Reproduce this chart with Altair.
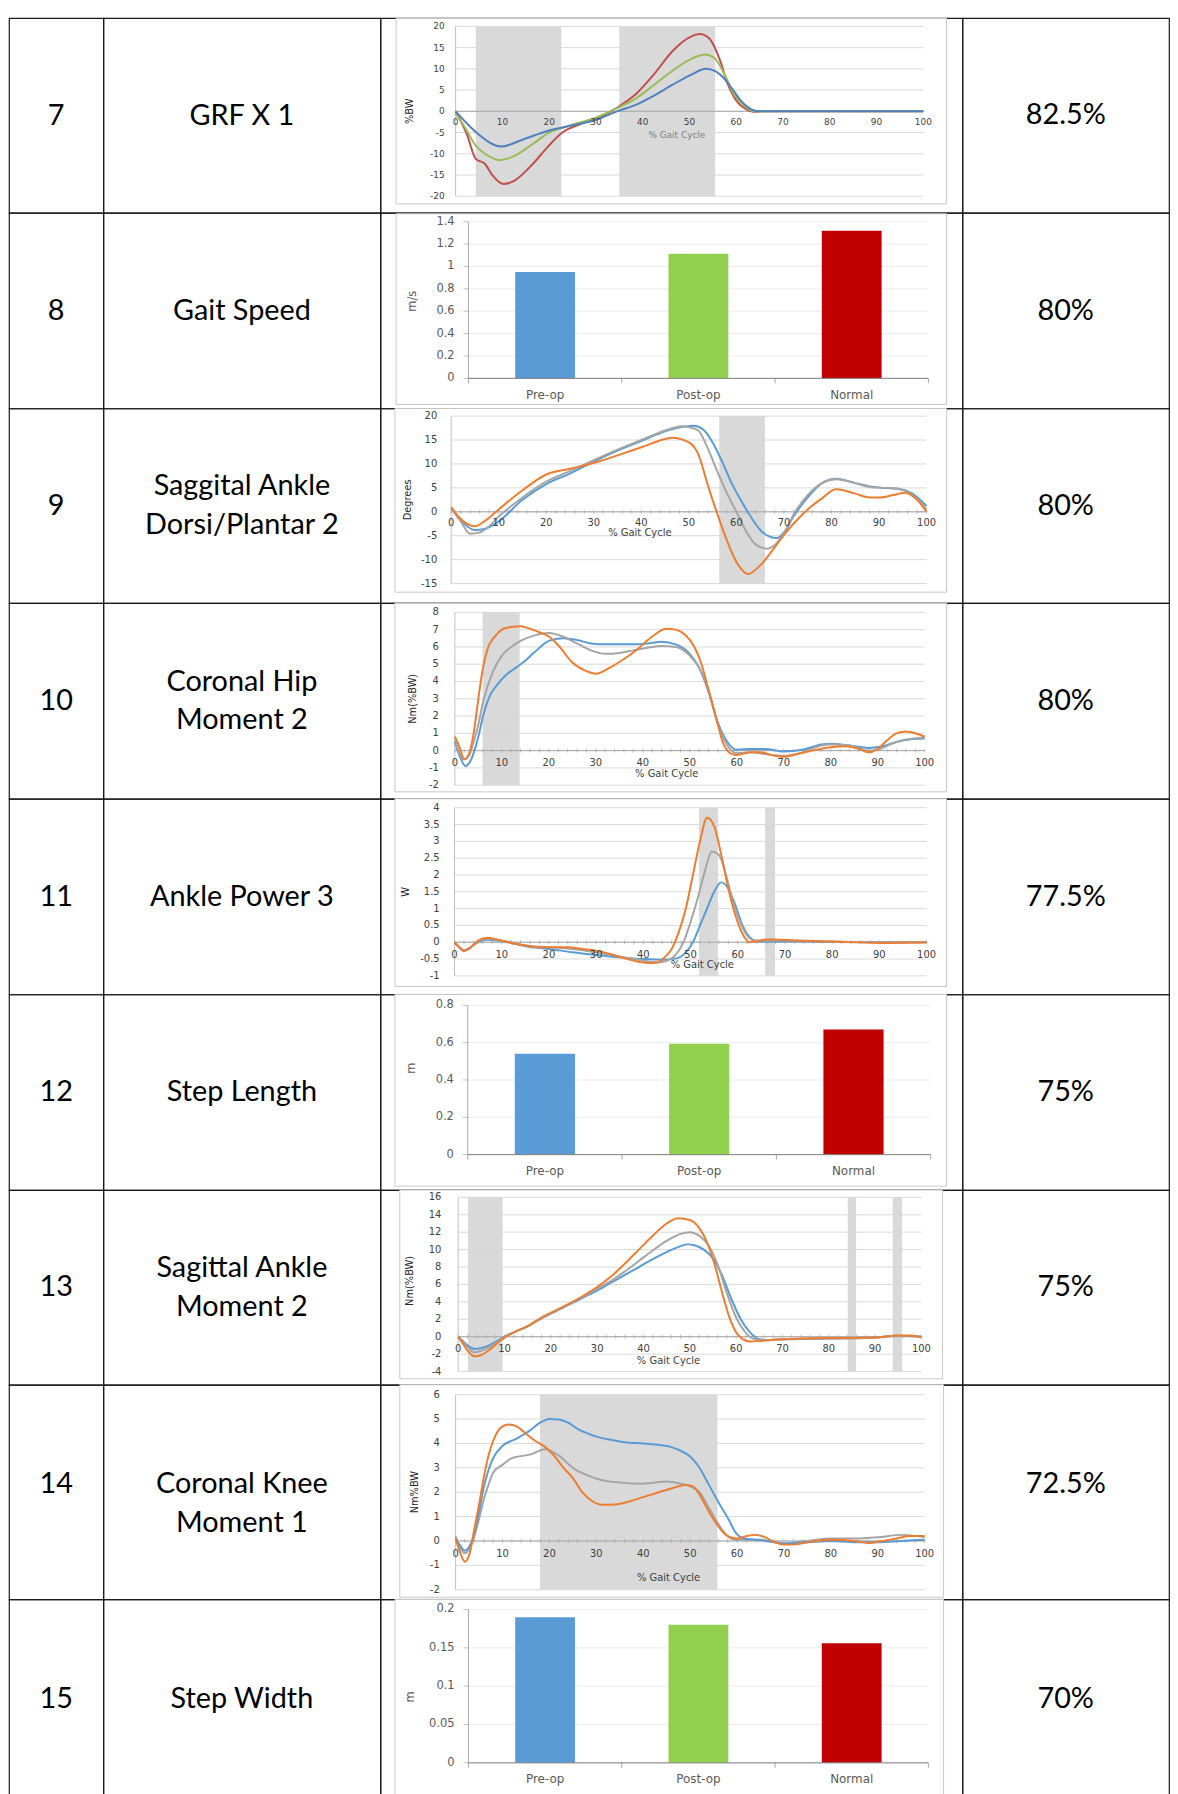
import altair as alt
import pandas as pd

# ---------------- table text ----------------
row_numbers = ["7", "8", "9", "10", "11", "12", "13", "14", "15"]
row_names = ["GRF X 1", "Gait Speed", "Saggital Ankle\nDorsi/Plantar 2", "Coronal Hip\nMoment 2",
             "Ankle Power 3", "Step Length", "Sagittal Ankle\nMoment 2", "Coronal Knee\nMoment 1",
             "Step Width"]
row_percents = ["82.5%", "80%", "80%", "80%", "77.5%", "75%", "75%", "72.5%", "70%"]

# ---------------- bar charts ----------------
bar_categories = ["Pre-op", "Post-op", "Normal"]
gait_speed = [0.95, 1.115, 1.32]
step_length = [0.54, 0.594, 0.671]
step_width = [0.19, 0.18, 0.156]
gait_speed_ticks = [0, 0.2, 0.4, 0.6, 0.8, 1.0, 1.2, 1.4]
gait_speed_labels = ["0", "0.2", "0.4", "0.6", "0.8", "1", "1.2", "1.4"]
step_length_ticks = [0, 0.2, 0.4, 0.6, 0.8]
step_length_labels = ["0", "0.2", "0.4", "0.6", "0.8"]
step_width_ticks = [0, 0.05, 0.1, 0.15, 0.2]
step_width_labels = ["0", "0.05", "0.1", "0.15", "0.2"]

# ---------------- gait cycle x axis ----------------
cycle_ticks = [0, 10, 20, 30, 40, 50, 60, 70, 80, 90, 100]
cycle_labels = ["0", "10", "20", "30", "40", "50", "60", "70", "80", "90", "100"]
cycle_minor = list(range(0, 101, 2))

# ---------------- 7: GRF X 1 ----------------
grf_ticks = [-20, -15, -10, -5, 0, 5, 10, 15, 20]
grf_labels = ["-20", "-15", "-10", "-5", "0", "5", "10", "15", "20"]
grf_shades = [(4.3, 22.6), (35.0, 55.5)]
grf_red = [(0, 0), (2.4, -5.4), (4.3, -11.2), (6.3, -12.4), (7.9, -15.1), (10.2, -17.1), (12.6, -16.3),
           (16.5, -12.4), (19.6, -8.5), (22.8, -5.0), (26.7, -3.0), (30.6, -1.5), (34.6, 0.9), (38.5, 4.0),
           (42.4, 8.7), (46.3, 14.1), (50.3, 17.6), (52.2, 18.2), (54.2, 17.2), (56.6, 11.8), (58.1, 6.7),
           (60.1, 2.4), (62.1, 0.5), (63.6, -0.1), (66, 0), (100, 0)]
grf_green = [(0, -0.5), (2, -3.8), (4.3, -8.1), (6.3, -10.0), (9.5, -11.5), (12, -10.8), (16.5, -7.7),
             (20, -5.0), (23, -3.8), (26, -2.8), (30, -1.5), (34, 0.5), (38.5, 3.0), (42.4, 6.2), (46.3, 9.5),
             (50.3, 12.3), (53.4, 13.4), (55.4, 12.5), (57.6, 8.5), (59.5, 4.0), (61.5, 1.5), (64, 0), (100, 0)]
grf_blue = [(0, 0), (3, -3.5), (5, -5.5), (9.8, -8.3), (14, -6.8), (20, -4.5), (25, -3.3), (30, -2.0),
            (34.5, 0), (38.5, 1.5), (42.4, 3.7), (46.3, 6.2), (50.3, 8.6), (53.5, 10.0), (55.4, 9.5),
            (57.6, 7.5), (59, 5.5), (61, 2.5), (63, 0.6), (65, 0), (100, 0)]

# ---------------- 9: Sagittal ankle angle ----------------
ank_ticks = [-15, -10, -5, 0, 5, 10, 15, 20]
ank_labels = ["-15", "-10", "-5", "0", "5", "10", "15", "20"]
ank_shades = [(56.4, 66.0)]
ank_blue = [(0, 0.8), (2, -1.8), (5, -3.8), (7, -3.6), (10, -2.0), (15, 2.5), (20, 5.8), (25, 8.0), (30, 10.5),
            (35, 12.8), (40, 14.8), (45, 16.8), (49, 17.8), (51, 18.0), (53, 17.2), (55, 14.5), (57, 10.5),
            (59, 6.0), (61, 2.3), (63, -1.0), (65, -3.8), (67, -5.2), (68.5, -5.5), (70, -4.3), (72, -1.0),
            (75, 3.0), (78, 6.0), (81, 6.9), (85, 6.0), (88, 5.3), (91, 5.0), (94, 4.8), (97, 3.8), (100, 1.2)]
ank_gray = [(0, 0.8), (2, -2.0), (4, -4.6), (6, -4.3), (8, -3.0), (10, -1.0), (15, 3.0), (20, 6.3), (25, 8.5),
            (30, 10.8), (35, 13.0), (40, 15.0), (45, 17.0), (48.5, 17.9), (50, 17.7), (52, 17.0), (54, 13.2),
            (56, 8.4), (58, 3.9), (60, 0.0), (62, -4.0), (64, -6.8), (66.5, -7.7), (68, -7.0), (70, -4.5),
            (72, -0.6), (75, 3.5), (78, 6.0), (81, 6.8), (85, 6.0), (88, 5.2), (91, 5.0), (94, 4.8), (97, 3.5),
            (100, 0.5)]
ank_orange = [(0, 1.0), (2, -1.5), (5, -3.0), (7, -2.0), (10, 0.5), (15, 4.5), (20, 7.8), (25, 9.0), (30, 10.2),
              (35, 11.8), (40, 13.5), (45, 15.2), (46.5, 15.5), (50, 14.5), (52, 12.0), (54, 5.5), (56, -0.5),
              (58, -6.0), (60, -10.5), (62.5, -13.0), (65, -11.2), (68, -7.5), (70, -4.8), (72, -2.5), (75, 0.5),
              (78, 2.8), (81, 4.7), (85, 3.8), (88, 3.0), (90, 3.0), (93, 3.5), (95.5, 4.0), (98, 2.5), (100, 0.0)]

# ---------------- 10: Coronal hip moment ----------------
hip_ticks = [-2, -1, 0, 1, 2, 3, 4, 5, 6, 7, 8]
hip_labels = ["-2", "-1", "0", "1", "2", "3", "4", "5", "6", "7", "8"]
hip_shades = [(5.9, 13.8)]
hip_blue = [(0, 0.5), (1, -0.3), (2.3, -0.9), (3.5, -0.5), (5, 0.8), (6, 2.0), (7.5, 3.2), (9, 3.8), (11, 4.4),
            (13, 4.8), (14.5, 5.1), (17, 5.7), (20, 6.35), (23, 6.5), (26, 6.4), (29, 6.2), (32, 6.15), (35, 6.15),
            (38, 6.15), (41, 6.2), (44, 6.3), (47, 6.15), (50, 5.6), (52, 4.8), (54, 3.4), (56, 1.6), (58, 0.5),
            (60, 0.05), (63, 0.1), (66, 0.1), (70, -0.05), (74, 0.05), (78, 0.35), (80, 0.4), (84, 0.3),
            (88, 0.15), (91, 0.25), (94, 0.5), (97, 0.65), (100, 0.7)]
hip_gray = [(0, 0.6), (2, -0.5), (3, -0.3), (4, 0.5), (5, 1.5), (6, 2.8), (8, 4.5), (10, 5.5), (12, 6.0),
            (14, 6.35), (17, 6.67), (20, 6.8), (23, 6.6), (26, 6.2), (29, 5.8), (32, 5.6), (35, 5.65), (38, 5.8),
            (41, 5.95), (44, 6.05), (47, 6.0), (50, 5.5), (52, 4.8), (54, 3.5), (56, 1.5), (58, 0.3), (60, -0.15),
            (63, -0.1), (66, -0.2), (70, -0.3), (74, -0.1), (78, 0.3), (80, 0.35), (84, 0.3), (88, 0.0),
            (90, 0.05), (93, 0.4), (96, 0.65), (100, 0.75)]
hip_orange = [(0, 0.8), (1, 0.2), (2, -0.5), (3, -0.2), (4, 1.0), (5, 3.0), (6, 4.8), (7, 5.9), (8.5, 6.6),
              (10, 7.0), (12, 7.15), (14, 7.2), (16, 7.05), (18, 6.85), (20, 6.6), (22, 6.1), (25, 5.1), (28, 4.6),
              (30, 4.45), (33, 4.8), (36, 5.3), (39, 5.9), (42, 6.6), (45, 7.05), (47, 7.0), (49, 6.7), (51, 6.0),
              (52.5, 5.0), (54, 3.5), (55, 2.5), (56, 1.5), (57, 0.5), (58, 0.0), (59, -0.2), (60, -0.25),
              (63, -0.1), (65, -0.1), (68, -0.3), (70, -0.35), (73, -0.2), (76, 0.0), (80, 0.2), (83, 0.25),
              (86, 0.1), (88, -0.1), (90, 0.1), (92, 0.6), (94, 1.0), (96, 1.1), (98, 1.0), (100, 0.8)]

# ---------------- 11: Ankle power ----------------
pow_ticks = [-1, -0.5, 0, 0.5, 1, 1.5, 2, 2.5, 3, 3.5, 4]
pow_labels = ["-1", "-0.5", "0", "0.5", "1", "1.5", "2", "2.5", "3", "3.5", "4"]
pow_shades = [(51.8, 55.8), (65.8, 67.9)]
pow_blue = [(0, 0.0), (1, -0.15), (2, -0.25), (3, -0.18), (5, 0.0), (7, 0.07), (9, 0.05), (12, -0.02),
            (15, -0.12), (20, -0.2), (25, -0.3), (30, -0.38), (35, -0.45), (40, -0.5), (44, -0.52), (47, -0.48),
            (49, -0.3), (50.5, 0.0), (52, 0.5), (53.5, 1.0), (55, 1.5), (56.5, 1.78), (58, 1.6), (59.5, 1.1),
            (61, 0.5), (62.5, 0.15), (64, 0.03), (66, 0.02), (70, 0.03), (80, 0.01), (100, 0.0)]
pow_gray = [(0, 0.0), (1, -0.15), (2, -0.27), (3, -0.2), (5, 0.02), (7, 0.1), (9, 0.07), (12, 0.0), (15, -0.1),
            (20, -0.15), (25, -0.2), (30, -0.3), (35, -0.42), (40, -0.55), (43, -0.6), (45, -0.55), (47, -0.35),
            (48.5, 0.0), (50, 0.6), (51.5, 1.3), (53, 2.1), (54.5, 2.7), (56, 2.6), (57.5, 2.0), (59, 1.2),
            (60.5, 0.6), (62, 0.2), (63.5, 0.05), (66, 0.05), (70, 0.06), (80, 0.02), (90, 0.0), (100, 0.0)]
pow_orange = [(0, 0.0), (1, -0.15), (2, -0.25), (3, -0.2), (5, 0.05), (7, 0.13), (9, 0.08), (12, -0.02),
              (15, -0.1), (18, -0.15), (21, -0.15), (24, -0.15), (27, -0.2), (30, -0.25), (33, -0.35), (36, -0.48),
              (39, -0.58), (41, -0.62), (43, -0.6), (44.5, -0.45), (46, -0.2), (47.5, 0.3), (49, 1.0), (50.5, 2.0),
              (52, 3.0), (53.5, 3.7), (55, 3.45), (56.5, 2.6), (58, 1.6), (59.5, 0.8), (61, 0.25), (62.5, 0.0),
              (64, 0.03), (66, 0.08), (68, 0.08), (72, 0.05), (80, 0.02), (90, -0.02), (100, 0.0)]

# ---------------- 13: Sagittal ankle moment ----------------
am_ticks = [-4, -2, 0, 2, 4, 6, 8, 10, 12, 14, 16]
am_labels = ["-4", "-2", "0", "2", "4", "6", "8", "10", "12", "14", "16"]
am_shades = [(2.1, 9.6), (84.1, 85.9), (93.8, 95.8)]
am_blue = [(0, 0.0), (1, -0.5), (2, -1.0), (3.5, -1.4), (5, -1.3), (7, -0.9), (9, -0.3), (10, 0.0), (12, 0.5),
           (15, 1.2), (18, 2.1), (21, 2.9), (24, 3.7), (27, 4.5), (30, 5.3), (33, 6.2), (36, 7.1), (39, 8.0),
           (42, 8.9), (45, 9.7), (48, 10.4), (49.5, 10.6), (51, 10.5), (53, 10.0), (55, 9.0), (57, 7.0), (59, 4.3),
           (61, 2.0), (63, 0.5), (65, -0.3), (67, -0.4), (70, -0.3), (80, -0.2), (90, -0.1), (95, 0.1), (100, 0.0)]
am_gray = [(0, 0.0), (1, -0.6), (2, -1.2), (3.5, -1.8), (5, -1.6), (7, -1.1), (9, -0.4), (10, -0.05), (12, 0.5),
           (15, 1.2), (18, 2.2), (21, 3.0), (24, 3.8), (27, 4.6), (30, 5.5), (33, 6.4), (36, 7.5), (39, 8.7),
           (42, 9.9), (45, 11.0), (48, 11.8), (50, 12.0), (52, 11.6), (54, 10.5), (56, 8.3), (58, 5.0), (60, 2.2),
           (62, 0.5), (64, -0.3), (66, -0.4), (70, -0.3), (80, -0.2), (85, -0.2), (90, -0.1), (95, 0.1), (98, 0.1),
           (100, 0.0)]
am_orange = [(0, 0.0), (1, -0.8), (2, -1.6), (3.5, -2.25), (5, -2.1), (7, -1.4), (9, -0.5), (10, -0.1), (12, 0.5),
             (15, 1.2), (18, 2.2), (21, 3.0), (24, 3.8), (27, 4.7), (30, 5.7), (33, 6.9), (36, 8.4), (39, 10.0),
             (42, 11.6), (45, 13.0), (47.5, 13.6), (50, 13.4), (52, 12.5), (54, 10.5), (55.5, 8.0), (57, 5.0),
             (58.5, 2.3), (60, 0.5), (61.5, -0.3), (63, -0.55), (65, -0.5), (68, -0.35), (72, -0.25), (80, -0.15),
             (85, -0.15), (90, -0.1), (95, 0.15), (98, 0.1), (100, -0.1)]

# ---------------- 14: Coronal knee moment ----------------
kn_ticks = [-2, -1, 0, 1, 2, 3, 4, 5, 6]
kn_labels = ["-2", "-1", "0", "1", "2", "3", "4", "5", "6"]
kn_shades = [(18.0, 55.8)]
kn_blue = [(0, 0.1), (1, -0.2), (2, -0.4), (3, -0.2), (4, 0.3), (5, 1.2), (6, 2.2), (7, 2.9), (8, 3.4), (10, 3.9),
           (13, 4.2), (16, 4.55), (18, 4.85), (20, 5.0), (22, 4.98), (24, 4.85), (26, 4.6), (28, 4.42), (30, 4.28),
           (33, 4.15), (36, 4.05), (40, 4.0), (43, 3.95), (46, 3.85), (48, 3.7), (50, 3.46), (52, 3.0), (54, 2.3),
           (56, 1.6), (58, 0.95), (60, 0.27), (62, 0.08), (65, 0.05), (68, -0.05), (70, -0.1), (75, -0.05),
           (80, 0.0), (85, -0.05), (90, -0.05), (95, 0.0), (100, 0.05)]
kn_gray = [(0, 0.2), (1, -0.3), (2, -0.5), (3, -0.3), (4, 0.2), (5, 0.9), (6, 1.7), (7, 2.3), (8, 2.8), (10, 3.12),
           (12, 3.4), (16, 3.55), (19, 3.76), (22, 3.5), (25, 3.0), (28, 2.7), (31, 2.5), (35, 2.4), (40, 2.35),
           (45, 2.44), (48, 2.35), (50, 2.24), (52, 2.0), (54, 1.36), (56, 0.7), (58, 0.2), (60, 0.05), (63, 0.05),
           (66, 0.0), (70, -0.1), (75, 0.0), (80, 0.1), (85, 0.1), (90, 0.15), (95, 0.25), (100, 0.15)]
kn_orange = [(0, 0.1), (1, -0.5), (2, -0.85), (3, -0.5), (4, 0.5), (5, 1.5), (6, 2.6), (7, 3.5), (8, 4.1),
             (9, 4.5), (10, 4.7), (11.3, 4.78), (13, 4.7), (15, 4.4), (17, 4.1), (19, 3.87), (21, 3.5), (23, 3.0),
             (25, 2.58), (27, 2.0), (29, 1.65), (31, 1.49), (34, 1.5), (37, 1.62), (40, 1.8), (43, 1.98),
             (46, 2.15), (49, 2.3), (50.5, 2.25), (52, 1.9), (54, 1.2), (56, 0.6), (58, 0.2), (60, 0.1), (62, 0.2),
             (64, 0.25), (66, 0.15), (68, -0.05), (70, -0.15), (72, -0.15), (75, -0.05), (80, 0.05), (85, 0.0),
             (88, -0.08), (91, 0.0), (94, 0.1), (97, 0.2), (100, 0.2)]

# ---------------- styles & layout ----------------
TABLE_FONT = "Lato"
CHART_FONT = "DejaVu Sans"
NARROW_FONT = "'Liberation Sans Narrow', 'DejaVu Sans Condensed', 'Liberation Sans', sans-serif"
BAR_COLORS = ["#5B9BD5", "#92D050", "#C00000"]
C_RED, C_GREEN, C_BLUE7 = "#C0504D", "#9BBB59", "#4F81BD"
C_BLUE, C_GRAY, C_ORANGE = "#5B9BD5", "#A5A5A5", "#ED7D31"
SHADE = "#d9d9d9"
GRID = "#d9d9d9"
FRAME = "#c8c8c8"
LABEL = "#404040"
BORDER = "#1a1a1a"
LINE_H = 39
CELL_VIEW = alt.ViewBackground(stroke=BORDER, strokeWidth=1.2)

COL_W = [95, 279, 586, 208]
ROW_H = [196, 197, 196, 197, 197, 197, 196, 216, 200]
# vertical offsets (px) of the number cell and the name cell in each row
NUM_DY = [1, 0, 0, 0, 0, 0, 0, -8, 0]
NAME_DY = [1, 0, 0, 0, 0, 0, 0, 12, 0]

LINE_LAYOUT = {
    "grf": dict(xr=[75.7, 546.6], yr=[179.3, 8.3], frame=[15.8, 570, 0, 187], ydx=11, xdy=11,
                ytx=29.4, yty=0, xt=(47.3, -5.7), minor=False, xtcolor="#7f7f7f", fs=9),
    "ank": dict(xr=[71.2, 549.9], yr=[176.3, 7.7], frame=[14.6, 570, 0, 185], ydx=14, xdy=11,
                ytx=27.6, yty=2.5, xt=(39.7, -4.4), minor=True, xtcolor=LABEL, fs=10),
    "hip": dict(xr=[74.9, 548.0], yr=[183.3, 9.3], frame=[14.6, 570, 0, 190], ydx=16, xdy=12,
                ytx=33, yty=3.0, xt=(45.1, -1.34), minor=True, xtcolor=LABEL, fs=10),
    "pow": dict(xr=[74.6, 549.9], yr=[178.3, 9.0], frame=[14.6, 570, 0, 189], ydx=15, xdy=12.5,
                ytx=25.7, yty=1.5, xt=(52.5, -0.67), minor=True, xtcolor=LABEL, fs=10),
    "am": dict(xr=[78.3, 544.7], yr=[182.7, 7.3], frame=[19.5, 566, 0, 190], ydx=17, xdy=12,
               ytx=29.7, yty=6.4, xt=(45.4, -2.74), minor=True, xtcolor=LABEL, fs=10),
    "kn": dict(xr=[75.7, 548.0], yr=[206.4, 10.0], frame=[19.5, 567, 0, 214], ydx=16, xdy=13,
               ytx=35, yty=2.0, xt=(45.4, -1.5), minor=True, xtcolor=LABEL, fs=10),
}
BAR_LAYOUT = {
    "speed": dict(xr=[88.6, 551.7], yr=[166.7, 9.0], frame=[15.8, 570, 1, 193], ydx=14, xdy=16.6,
                  ytx=33, yty=0.69),
    "length": dict(xr=[87.9, 554.0], yr=[161.3, 11.0], frame=[14.6, 570, 0, 193], ydx=14, xdy=16.4,
                   ytx=31.3, yty=0.463),
    "width": dict(xr=[88.6, 551.7], yr=[164.7, 10.3], frame=[14.6, 567, 0, 210], ydx=14, xdy=16,
                  ytx=31, yty=0.086),
}


def frame_layer(fr):
    return alt.Chart(pd.DataFrame({"k": [0]})).mark_rect(
        fill="white", stroke=FRAME, strokeWidth=1
    ).encode(x=alt.value(fr[0]), x2=alt.value(fr[1]), y=alt.value(fr[2]), y2=alt.value(fr[3]))


def text_cell(txt, w, h, dy=0):
    n_lines = txt.count("\n") + 1
    shift = dy - (n_lines - 1) * LINE_H / 2
    return alt.Chart(pd.DataFrame({"t": [txt]})).mark_text(
        font=TABLE_FONT, fontSize=29, lineBreak="\n", lineHeight=LINE_H, align="center",
        baseline="middle", color="black", dy=shift
    ).encode(text="t:N").properties(width=w, height=h, view=CELL_VIEW)


def line_panel(series, yticks, ylabels, shades, ytitle, L, h):
    ymin, ymax = yticks[0], yticks[-1]
    xs = alt.Scale(domain=[0, 100], range=L["xr"], nice=False, zero=False)
    ys = alt.Scale(domain=[ymin, ymax], range=L["yr"], nice=False, zero=False)

    def X(f):
        return alt.X(f, type="quantitative", scale=xs, axis=None)

    def Y(f):
        return alt.Y(f, type="quantitative", scale=ys, axis=None)

    layers = [frame_layer(L["frame"])]
    sh = pd.DataFrame({"a": [s[0] for s in shades], "b": [s[1] for s in shades]})
    sh["lo"] = ymin
    sh["hi"] = ymax
    layers.append(alt.Chart(sh).mark_rect(color=SHADE).encode(x=X("a"), x2="b", y=Y("lo"), y2="hi"))
    grid = pd.DataFrame({"v": yticks, "lab": ylabels})
    grid["x0"] = 0
    grid["x1"] = 100
    layers.append(alt.Chart(grid).mark_rule(color=GRID, strokeWidth=1).encode(x=X("x0"), x2="x1", y=Y("v")))
    yax = pd.DataFrame({"x": [0], "lo": [ymin], "hi": [ymax]})
    layers.append(alt.Chart(yax).mark_rule(color="#bfbfbf", strokeWidth=1).encode(x=X("x"), y=Y("lo"), y2="hi"))
    zl = pd.DataFrame({"x0": [0], "x1": [100], "y": [0]})
    layers.append(alt.Chart(zl).mark_rule(color="#a6a6a6", strokeWidth=1).encode(x=X("x0"), x2="x1", y=Y("y")))
    if L["minor"]:
        mt = pd.DataFrame({"x": cycle_minor})
        mt["y"] = 0
        layers.append(alt.Chart(mt).mark_tick(orient="vertical", size=4, thickness=1, color="#a6a6a6")
                      .encode(x=X("x"), y=Y("y")))
    for pts, color in series:
        df = pd.DataFrame(pts, columns=["x", "y"])
        layers.append(alt.Chart(df).mark_line(color=color, strokeWidth=2, interpolate="monotone")
                      .encode(x=X("x"), y=Y("y")))
    layers.append(alt.Chart(grid).mark_text(align="right", baseline="middle", dx=-L["ydx"], font=CHART_FONT,
                                            fontSize=L["fs"], color=LABEL)
                  .encode(x=X("x0"), y=Y("v"), text="lab:N"))
    xl = pd.DataFrame({"v": cycle_ticks, "lab": cycle_labels})
    xl["y"] = 0
    layers.append(alt.Chart(xl).mark_text(align="center", baseline="middle", dy=L["xdy"], font=CHART_FONT,
                                          fontSize=L["fs"], color=LABEL)
                  .encode(x=X("v"), y=Y("y"), text="lab:N"))
    xt = pd.DataFrame({"x": [L["xt"][0]], "y": [L["xt"][1]], "t": ["% Gait Cycle"]})
    layers.append(alt.Chart(xt).mark_text(align="center", baseline="middle", font=CHART_FONT,
                                          fontSize=L["fs"], color=L["xtcolor"])
                  .encode(x=X("x"), y=Y("y"), text="t:N"))
    yt = pd.DataFrame({"y": [L["yty"]], "t": [ytitle]})
    layers.append(alt.Chart(yt).mark_text(align="center", baseline="middle", angle=270, font=NARROW_FONT,
                                          fontSize=11, color="#262626")
                  .encode(x=alt.value(L["ytx"]), y=Y("y"), text="t:N"))
    return alt.layer(*layers).properties(width=COL_W[2], height=h, view=CELL_VIEW)


def bar_panel(values, yticks, ylabels, ytitle, L, h):
    ymax = yticks[-1]
    bx = alt.Scale(domain=bar_categories, range=L["xr"], paddingInner=0.61, paddingOuter=0.305)
    qx = alt.Scale(domain=[0, 3], range=L["xr"], nice=False, zero=False)
    ys = alt.Scale(domain=[0, ymax], range=L["yr"], nice=False)

    def QX(f):
        return alt.X(f, type="quantitative", scale=qx, axis=None)

    def BX(f):
        return alt.X(f, type="nominal", scale=bx, axis=None)

    def Y(f):
        return alt.Y(f, type="quantitative", scale=ys, axis=None)

    layers = [frame_layer(L["frame"])]
    grid = pd.DataFrame({"v": yticks, "lab": ylabels})
    grid["x0"] = 0
    grid["x1"] = 3
    layers.append(alt.Chart(grid).mark_rule(color="#ececec", strokeWidth=1).encode(x=QX("x0"), x2="x1", y=Y("v")))
    yax = pd.DataFrame({"x": [0], "lo": [0], "hi": [ymax]})
    layers.append(alt.Chart(yax).mark_rule(color="#a6a6a6", strokeWidth=1).encode(x=QX("x"), y=Y("lo"), y2="hi"))
    layers.append(alt.Chart(grid).mark_tick(orient="horizontal", size=5, thickness=1, color="#a6a6a6", xOffset=-2.5)
                  .encode(x=QX("x0"), y=Y("v")))
    bars = pd.DataFrame({"cat": bar_categories, "val": values})
    bars["zero"] = 0
    layers.append(alt.Chart(bars).mark_bar().encode(
        x=BX("cat"), y=Y("val"), y2="zero",
        color=alt.Color("cat:N", scale=alt.Scale(domain=bar_categories, range=BAR_COLORS), legend=None)))
    xax = pd.DataFrame({"x0": [0], "x1": [3], "y": [0]})
    layers.append(alt.Chart(xax).mark_rule(color="#7f7f7f", strokeWidth=1).encode(x=QX("x0"), x2="x1", y=Y("y")))
    bt = pd.DataFrame({"x": [0, 1, 2, 3]})
    bt["y"] = 0
    layers.append(alt.Chart(bt).mark_tick(orient="vertical", size=5, thickness=1, color="#7f7f7f", yOffset=2.5)
                  .encode(x=QX("x"), y=Y("y")))
    layers.append(alt.Chart(bars).mark_text(align="center", baseline="middle", dy=L["xdy"], font=CHART_FONT,
                                            fontSize=12, color="#595959")
                  .encode(x=BX("cat"), y=Y("zero"), text="cat:N"))
    layers.append(alt.Chart(grid).mark_text(align="right", baseline="middle", dx=-L["ydx"], font=CHART_FONT,
                                            fontSize=11.5, color="#595959")
                  .encode(x=QX("x0"), y=Y("v"), text="lab:N"))
    yt = pd.DataFrame({"y": [L["yty"]], "t": [ytitle]})
    layers.append(alt.Chart(yt).mark_text(align="center", baseline="middle", angle=270, font=CHART_FONT,
                                          fontSize=11.5, color="#595959")
                  .encode(x=alt.value(L["ytx"]), y=Y("y"), text="t:N"))
    return alt.layer(*layers).resolve_scale(x="independent").properties(width=COL_W[2], height=h,
                                                                        view=CELL_VIEW)


panels = [
    line_panel([(grf_red, C_RED), (grf_green, C_GREEN), (grf_blue, C_BLUE7)], grf_ticks, grf_labels,
               grf_shades, "%BW", LINE_LAYOUT["grf"], ROW_H[0]),
    bar_panel(gait_speed, gait_speed_ticks, gait_speed_labels, "m/s", BAR_LAYOUT["speed"], ROW_H[1]),
    line_panel([(ank_blue, C_BLUE), (ank_gray, C_GRAY), (ank_orange, C_ORANGE)], ank_ticks, ank_labels,
               ank_shades, "Degrees", LINE_LAYOUT["ank"], ROW_H[2]),
    line_panel([(hip_blue, C_BLUE), (hip_gray, C_GRAY), (hip_orange, C_ORANGE)], hip_ticks, hip_labels,
               hip_shades, "Nm(%BW)", LINE_LAYOUT["hip"], ROW_H[3]),
    line_panel([(pow_blue, C_BLUE), (pow_gray, C_GRAY), (pow_orange, C_ORANGE)], pow_ticks, pow_labels,
               pow_shades, "W", LINE_LAYOUT["pow"], ROW_H[4]),
    bar_panel(step_length, step_length_ticks, step_length_labels, "m", BAR_LAYOUT["length"], ROW_H[5]),
    line_panel([(am_blue, C_BLUE), (am_gray, C_GRAY), (am_orange, C_ORANGE)], am_ticks, am_labels,
               am_shades, "Nm(%BW)", LINE_LAYOUT["am"], ROW_H[6]),
    line_panel([(kn_gray, C_GRAY), (kn_blue, C_BLUE), (kn_orange, C_ORANGE)], kn_ticks, kn_labels,
               kn_shades, "Nm%BW", LINE_LAYOUT["kn"], ROW_H[7]),
    bar_panel(step_width, step_width_ticks, step_width_labels, "m", BAR_LAYOUT["width"], ROW_H[8]),
]

cells = []
for i in range(len(row_numbers)):
    cells.append(text_cell(row_numbers[i], COL_W[0], ROW_H[i], NUM_DY[i]))
    cells.append(text_cell(row_names[i], COL_W[1], ROW_H[i], NAME_DY[i]))
    cells.append(panels[i])
    cells.append(text_cell(row_percents[i], COL_W[3], ROW_H[i], NUM_DY[i] if i == 7 else 0))

chart = alt.concat(*cells, columns=4, spacing=0, bounds="flush").properties(
    padding={"left": 0, "top": 2, "right": 0, "bottom": 0}
).configure_view(stroke=BORDER, strokeWidth=1.2)

chart.save("out.html", embed_options={"renderer": "svg", "actions": False})
